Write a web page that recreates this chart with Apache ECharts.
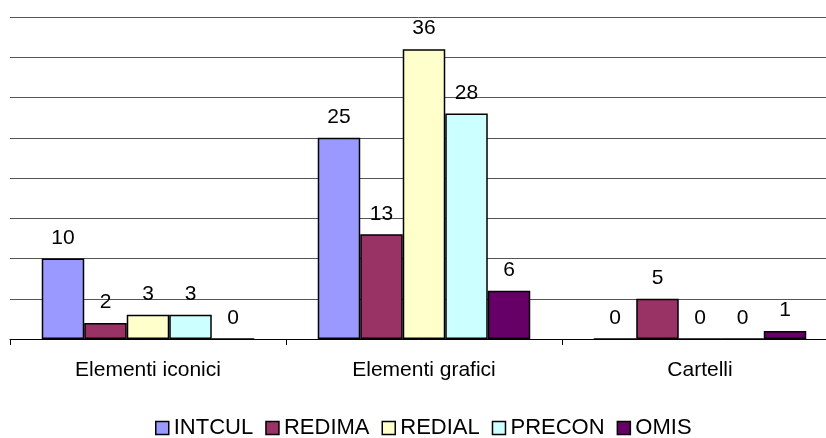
<!DOCTYPE html>
<html><head><meta charset="utf-8">
<script src="https://cdn.jsdelivr.net/npm/echarts@6/dist/echarts.min.js"></script>
<style>html,body{margin:0;padding:0;background:#fff}#c{width:826px;height:438px}</style>
</head><body><div id="c"></div>
<script>
const categories = ['Elementi iconici', 'Elementi grafici', 'Cartelli'];
const seriesNames = ['INTCUL', 'REDIMA', 'REDIAL', 'PRECON', 'OMIS'];
const INTCUL = [10, 25, 0];
const REDIMA = [2, 13, 5];
const REDIAL = [3, 36, 0];
const PRECON = [3, 28, 0];
const OMIS = [0, 6, 1];
const colors = ['#9999FF', '#993366', '#FFFFCC', '#CCFFFF', '#660066'];
const values = [INTCUL, REDIMA, REDIAL, PRECON, OMIS];

const chart = echarts.init(document.getElementById('c'));
const font = 'Liberation Sans, Arial, sans-serif';
chart.setOption({
  animation: false,
  textStyle: { fontFamily: font },
  grid: { left: 10, top: 17, width: 828, bottom: 99, containLabel: false, outerBoundsMode: 'none' },
  legend: {
    top: 417, left: 155, padding: 0,
    itemWidth: 13, itemHeight: 13, itemGap: 12,
    icon: 'rect',
    textStyle: { fontSize: 22, color: '#000', fontFamily: font },
    itemStyle: { borderColor: '#000', borderWidth: 1.5 },
    data: seriesNames
  },
  xAxis: {
    type: 'category', data: categories,
    axisLine: { lineStyle: { color: '#000', width: 1 } },
    axisTick: { show: true, length: 6, lineStyle: { color: '#000' } },
    axisLabel: { fontSize: 21, color: '#000', margin: 21, fontFamily: font }
  },
  yAxis: {
    type: 'value', min: 0, max: 40, interval: 5,
    axisLine: { show: false }, axisTick: { show: false }, axisLabel: { show: false },
    splitLine: { lineStyle: { color: '#555', width: 1 } }
  },
  series: seriesNames.map((n, i) => ({
    name: n, type: 'bar', data: values[i],
    barGap: '0%', barCategoryGap: '23%',
    itemStyle: { color: colors[i], borderColor: '#000', borderWidth: 1.5 },
    label: { show: true, position: 'top', distance: 10, fontSize: 21, color: '#000', fontFamily: font }
  }))
});
</script></body></html>
